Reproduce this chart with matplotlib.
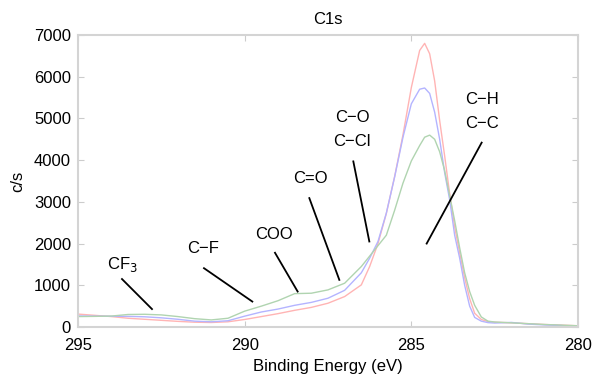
import matplotlib
matplotlib.use("Agg")
from matplotlib import pyplot as plt

plt.rcParams['font.family'] = ['Liberation Sans', 'DejaVu Sans']

# binding energy grid (eV)
energy = [295, 294.5, 294, 293.5, 293, 292.5, 292, 291.5, 291, 290.5, 290, 289.5,
          289, 288.5, 288, 287.5, 287, 286.5, 286.25, 286, 285.75, 285.5, 285.25,
          285, 284.75, 284.6, 284.45, 284.3, 284.15, 284, 283.85, 283.7, 283.55,
          283.4, 283.25, 283.1, 282.9, 282.7, 282.5, 282, 281.5, 281, 280.5, 280]

red = [310, 280, 250, 210, 185, 160, 135, 115, 108, 125, 180, 250,
       320, 400, 470, 570, 730, 1010, 1450, 2000, 2720, 3610, 4610,
       5740, 6630, 6800, 6550, 5900, 4950, 4100, 3200, 2400, 1780,
       1180, 680, 330, 180, 130, 115, 100, 80, 60, 45, 30]

blue = [265, 260, 258, 255, 245, 220, 185, 140, 125, 150, 260, 360,
        430, 520, 590, 690, 880, 1300, 1650, 2050, 2730, 3600, 4550,
        5350, 5700, 5730, 5600, 5150, 4500, 3700, 3050, 2200, 1650,
        1000, 500, 230, 140, 105, 95, 110, 70, 50, 35, 5]

green = [250, 255, 262, 300, 305, 290, 250, 200, 170, 210, 380, 500,
         630, 800, 810, 890, 1050, 1450, 1700, 1950, 2200, 2800, 3450,
         3980, 4350, 4550, 4600, 4500, 4200, 3750, 3150, 2550, 1900,
         1300, 850, 520, 240, 140, 120, 100, 80, 60, 45, 30]

# peak labels: text, text centre, line start, line end
labels = ['CF$_3$', 'C\u2212F', 'COO', 'C=O', 'C\u2212O\nC\u2212Cl', 'C\u2212H\nC\u2212C']
text_x = [293.68, 291.25, 289.12, 288.04, 286.78, 282.88]
text_y = [1500, 1870, 2210, 3550, 4730, 5170]
line_x0 = [293.68, 291.22, 289.09, 288.06, 286.74, 282.89]
line_y0 = [1150, 1410, 1780, 3090, 3970, 4420]
line_x1 = [292.78, 289.77, 288.41, 287.16, 286.26, 284.54]
line_y1 = [430, 610, 850, 1130, 2050, 2000]

fig = plt.figure(figsize=(5.93, 3.83), dpi=100)
ax = fig.add_axes([0.1315, 0.1462, 0.8432, 0.7624])

ax.plot(energy, red, color='#ffb4b4', linewidth=1.0)
ax.plot(energy, blue, color='#b4b4ff', linewidth=1.0)
ax.plot(energy, green, color='#b0d4b0', linewidth=1.0)

for i in range(len(labels)):
    ax.plot([line_x0[i], line_x1[i]], [line_y0[i], line_y1[i]], color='black', linewidth=1.3)
    ax.text(text_x[i], text_y[i], labels[i], ha='center', va='center', fontsize=12,
            linespacing=1.8)

ax.set_xlim(295, 280)
ax.set_ylim(0, 7000)
ax.set_xticks([295, 290, 285, 280])
ax.set_yticks(range(0, 7001, 1000))
ax.tick_params(direction='in', length=4, color='#cccccc', labelsize=12,
               top=True, right=True, pad=5)
ax.tick_params(axis='x', pad=8)
for s in ax.spines.values():
    s.set_color('#d4d4d4')
    s.set_linewidth(1.5)

ax.set_title('C1s', fontsize=12, pad=8)
ax.set_xlabel('Binding Energy (eV)', fontsize=12, labelpad=4)
ax.set_ylabel('c/s', fontsize=12, labelpad=6)

fig.savefig('out.png', dpi=100)
